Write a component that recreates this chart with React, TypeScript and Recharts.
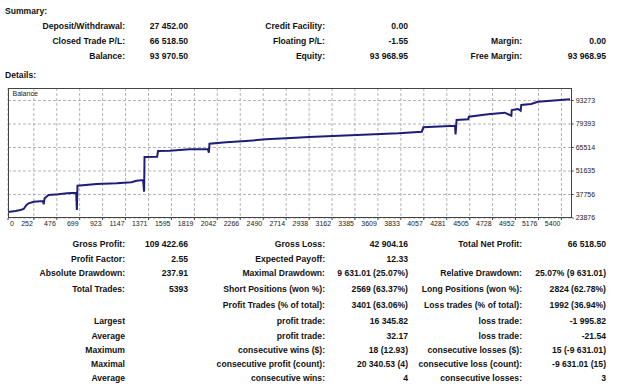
import React from "react";
import { LineChart, Line, XAxis, YAxis, CartesianGrid } from "recharts";

const tradeIdx = [0, 73, 120, 153, 180, 202, 250, 342, 348, 357, 396, 493, 575, 665, 672, 678, 866, 1060, 1205, 1254, 1318, 1328, 1332, 1455, 1464, 1578, 1772, 1950, 1960, 1966, 2128, 2322, 2517, 2808, 2937, 3228, 3811, 4037, 4053, 4361, 4367, 4377, 4490, 4497, 4684, 4847, 4911, 4915, 4976, 5002, 5008, 5105, 5170, 5483];
const balance = [27452, 28010, 28600, 29190, 31550, 32560, 33500, 33920, 31970, 35510, 37460, 37870, 38460, 38820, 28600, 42950, 43960, 44370, 44960, 45900, 46320, 39410, 59900, 60080, 63450, 63620, 64450, 64630, 62440, 67760, 68580, 69350, 70350, 71300, 71720, 72480, 73900, 74850, 77440, 78390, 73310, 81750, 82170, 83700, 85120, 86070, 84300, 87660, 88250, 87250, 90610, 91200, 92560, 93970];

const xTicks = [0, 252, 476, 699, 923, 1147, 1371, 1595, 1819, 2042, 2266, 2490, 2714, 2938, 3162, 3385, 3609, 3833, 4057, 4281, 4505, 4728, 4952, 5176, 5400];
const yTicks = [23876, 37756, 51635, 65514, 79393, 93273];

const summaryRows = [
  ["Deposit/Withdrawal:", "27 452.00", "Credit Facility:", "0.00", "", ""],
  ["Closed Trade P/L:", "66 518.50", "Floating P/L:", "-1.55", "Margin:", "0.00"],
  ["Balance:", "93 970.50", "Equity:", "93 968.95", "Free Margin:", "93 968.95"],
];
const summaryY = [26, 41, 56.5];

const statsRows = [
  ["Gross Profit:", "109 422.66", "Gross Loss:", "42 904.16", "Total Net Profit:", "66 518.50"],
  ["Profit Factor:", "2.55", "Expected Payoff:", "12.33", "", ""],
  ["Absolute Drawdown:", "237.91", "Maximal Drawdown:", "9 631.01 (25.07%)", "Relative Drawdown:", "25.07% (9 631.01)"],
  ["Total Trades:", "5393", "Short Positions (won %):", "2569 (63.37%)", "Long Positions (won %):", "2824 (62.78%)"],
  ["", "", "Profit Trades (% of total):", "3401 (63.06%)", "Loss trades (% of total):", "1992 (36.94%)"],
  ["Largest", "", "profit trade:", "16 345.82", "loss trade:", "-1 995.82"],
  ["Average", "", "profit trade:", "32.17", "loss trade:", "-21.54"],
  ["Maximum", "", "consecutive wins ($):", "18 (12.93)", "consecutive losses ($):", "15 (-9 631.01)"],
  ["Maximal", "", "consecutive profit (count):", "20 340.53 (4)", "consecutive loss (count):", "-9 631.01 (15)"],
  ["Average", "", "consecutive wins:", "4", "consecutive losses:", "3"],
];
const statsY = [244, 259, 273, 289, 305, 321, 336, 350, 364, 378];

const colRight = [125, 188, 325, 408, 522, 606];

const data = tradeIdx.map((t, i) => ({ trade: t, balance: balance[i] }));

const FONT = "'Liberation Sans', Arial, sans-serif";

const Cell = ({ text, right, y }: { text: string; right: number; y: number }) =>
  text ? (
    <div
      style={{
        position: "absolute",
        left: right - 250,
        width: 250,
        top: y - 5.5,
        height: 11,
        lineHeight: "11px",
        textAlign: "right",
        whiteSpace: "nowrap",
        fontSize: 8.6,
        fontWeight: "bold",
        color: "#111",
        fontFamily: FONT,
      }}
    >
      {text}
    </div>
  ) : null;

const Heading = ({ text, y }: { text: string; y: number }) => (
  <div
    style={{
      position: "absolute",
      left: 5,
      top: y - 5.5,
      lineHeight: "11px",
      fontSize: 8.6,
      fontWeight: "bold",
      color: "#111",
      fontFamily: FONT,
      whiteSpace: "nowrap",
    }}
  >
    {text}
  </div>
);

const XTick = (props: any) => {
  const { x, y, payload } = props;
  const isZero = payload.value === 0;
  return (
    <text
      x={isZero ? x + 2 : x - 1}
      y={y}
      dy="0.71em"
      textAnchor={isZero ? "start" : "end"}
      fontSize={7}
      fill="#222"
      fontFamily={FONT}
    >
      {payload.value}
    </text>
  );
};

export default function App() {
  return (
    <div style={{ position: "absolute", left: 0, top: 0, width: 625, height: 387, background: "#fff", overflow: "hidden" }}>
      <Heading text="Summary:" y={11} />
      {summaryRows.map((row, r) =>
        row.map((cell, c) => <Cell key={`s${r}-${c}`} text={cell} right={colRight[c]} y={summaryY[r]} />)
      )}
      <Heading text="Details:" y={75.5} />

      <div style={{ position: "absolute", left: 0, top: 80 }}>
        <LineChart width={625} height={155} data={data} margin={{ top: 8, right: 0, bottom: 0, left: 8 }}>
          <CartesianGrid
            stroke="#b4b4b4"
            strokeDasharray="3 2"
            strokeWidth={1}
            horizontalValues={yTicks}
            verticalValues={xTicks}
          />
          <XAxis
            type="number"
            dataKey="trade"
            domain={[0, 5500]}
            ticks={xTicks}
            interval={0}
            height={17}
            axisLine={false}
            tickSize={2}
            tickMargin={1}
            tickLine={{ stroke: "#444" }}
            tick={<XTick />}
            allowDataOverflow
          />
          <YAxis
            orientation="right"
            type="number"
            domain={[23876, 100660]}
            ticks={yTicks}
            interval={0}
            width={53.3}
            axisLine={false}
            tickSize={2}
            tickMargin={2}
            tickLine={{ stroke: "#444" }}
            tick={{ fontSize: 7, fill: "#222", fontFamily: FONT }}
            allowDataOverflow
          />
          <Line
            type="linear"
            dataKey="balance"
            stroke="#1e1e7a"
            strokeWidth={2}
            dot={false}
            isAnimationActive={false}
          />
        </LineChart>
        <div
          style={{
            position: "absolute",
            left: 8,
            top: 8,
            width: 563.7,
            height: 130,
            border: "1px solid #444",
            boxSizing: "border-box",
            pointerEvents: "none",
          }}
        />
        <div
          style={{
            position: "absolute",
            left: 12.5,
            top: 10,
            fontSize: 7,
            color: "#222",
            fontFamily: FONT,
            whiteSpace: "nowrap",
          }}
        >
          Balance
        </div>
      </div>

      {statsRows.map((row, r) =>
        row.map((cell, c) => <Cell key={`t${r}-${c}`} text={cell} right={colRight[c]} y={statsY[r]} />)
      )}
    </div>
  );
}
